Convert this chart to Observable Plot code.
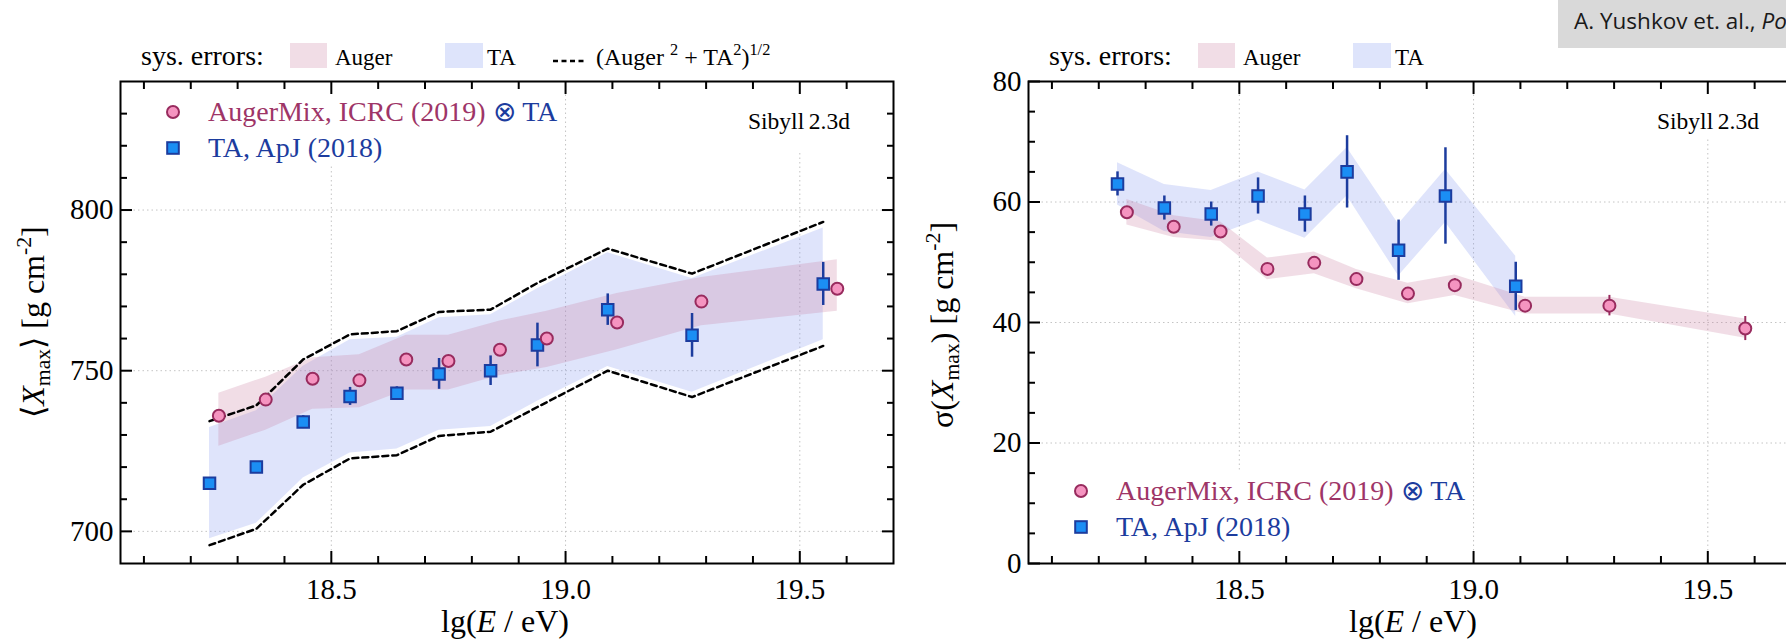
<!DOCTYPE html>
<html>
<head>
<meta charset="utf-8">
<script src="https://cdn.jsdelivr.net/npm/d3@7"></script>
<script src="https://cdn.jsdelivr.net/npm/@observablehq/plot@0.6"></script>
<style>
  html, body { margin: 0; padding: 0; background: #fff; }
  body { width: 1786px; height: 640px; overflow: hidden; position: relative;
         font-family: "Liberation Serif", "Times New Roman", serif; color: #000; }
  .panel { position: absolute; top: 0; width: 909px; height: 640px; }
  .panel > svg { position: absolute; left: 0; top: 0; overflow: visible; }
  .t { position: absolute; white-space: nowrap; line-height: 1; }
  .t sub, .t sup { font-size: 0.68em; line-height: 0; }
  .t sub { vertical-align: -0.28em; }
  .t sup { vertical-align: 0.62em; }
  .sw { position: absolute; }
  .cite { position: absolute; left: 1558px; top: 0; width: 400px; height: 48px; background: #d9d9d9;
          font-family: "Open Sans", sans-serif; font-size: 22.5px; color: #1a1a1a; }
  .cite span.txt { position: absolute; left: 16px; top: 10px; white-space: nowrap; line-height: 1; }
</style>
</head>
<body>
<div class="cite"><span class="txt">A. Yushkov et. al., <i>PoS(ICRC2019)482</i></span></div>
<script>
// ---- energy axis (shared by both panels) ----
const xDomain = [18.05, 19.7];
const xMajor = [18.5, 19.0, 19.5];
const xMinor = [18.1, 18.2, 18.3, 18.4, 18.6, 18.7, 18.8, 18.9, 19.1, 19.2, 19.3, 19.4, 19.6];

// ---- <Xmax> panel axis ----
const xmaxDomain = [690, 840];
const xmaxMajor = [700, 750, 800];
const xmaxMinor = [710, 720, 730, 740, 760, 770, 780, 790, 810, 820, 830];

// ---- sigma(Xmax) panel axis ----
const sigmaDomain = [0, 80];
const sigmaMajor = [0, 20, 40, 60, 80];
const sigmaMinor = [5, 10, 15, 25, 30, 35, 45, 50, 55, 65, 70, 75];

// ---- AugerMix, ICRC (2019) (x) TA ----
const augerE = [18.26, 18.36, 18.46, 18.56, 18.66, 18.75, 18.86, 18.96, 19.11, 19.29, 19.58];
const augerXmax = [736, 741, 747.5, 747, 753.5, 753, 756.5, 760, 765, 771.5, 775.5];
const augerXmaxSysUp = [7, 7, 6.5, 8, 7.5, 8, 9, 8.5, 9, 7.5, 9];
const augerXmaxSysDown = [9.5, 9.5, 9.5, 8.5, 9.5, 9, 8, 9, 8.5, 7.5, 7];
const augerSigma = [58.3, 55.9, 55.1, 48.9, 49.9, 47.2, 44.8, 46.2, 42.8, 42.8, 39.0];
const augerSigmaErr = [0.8, 0.8, 0.9, 0.9, 1.0, 1.0, 1.0, 1.1, 1.0, 1.7, 2.0];
const augerSigmaSys = [2.1, 1.8, 1.6, 1.8, 1.8, 1.6, 1.7, 1.7, 1.4, 1.4, 1.6];

// ---- TA, ApJ (2018) ----
const taE = [18.24, 18.34, 18.44, 18.54, 18.64, 18.73, 18.84, 18.94, 19.09, 19.27, 19.55];
const taXmax = [715, 720, 734, 742, 743, 749, 750, 758, 769, 761, 777];
const taXmaxErr = [1.5, 1.5, 2, 2.8, 2, 4.8, 4.6, 6.8, 4.9, 6.8, 6.7];
const taXmaxSys = [17.3, 17.5, 17.4, 17.6, 17.4, 17.5, 17.4, 17.5, 17.7, 17.7, 17.4];
const combinedSys = [19.3, 19.2, 19.5, 19.3, 19.3, 19.3, 19.0, 19.3, 19.0, 19.2, 19.3];
const taSigmaE = [18.24, 18.34, 18.44, 18.54, 18.64, 18.73, 18.84, 18.94, 19.09];
const taSigma = [63, 59, 58, 61, 58, 65, 52, 61, 46];
const taSigmaErr = [2, 2, 2, 3, 3, 6, 5, 8, 4];
const taSigmaSys = [3.5, 3.9, 3.9, 4, 4, 4, 4.3, 4.4, 5];

// ---- colours ----
const AUGER_FILL = "#f594c0", AUGER_DARK = "#982b5e", AUGER_TEXT = "#9e3567";
const TA_FILL = "#1b8ef4", TA_DARK = "#1c3c9e";
const AUGER_BAND = "#c8789c", TA_BAND = "#8298f0";
const AUGER_SWATCH = "#f1dde6", TA_SWATCH = "#dee4fb";

const W = 909, H = 640;
const M = {left: 120, right: 16, top: 81, bottom: 77};

function frameAxes(yMajor, yMinor) {
  const blank = () => "";
  const tick = {label: null, tickFormat: blank, stroke: "#000", strokeWidth: 2};
  return [
    Plot.frame({stroke: "#000", strokeWidth: 2}),
    Plot.axisX(xMajor, {anchor: "bottom", tickSize: 0, tickPadding: 15, tickFormat: d3.format(".1f"), label: null}),
    Plot.axisX(xMajor, {anchor: "bottom", tickSize: -12, ...tick}),
    Plot.axisX(xMinor, {anchor: "bottom", tickSize: -7, ...tick}),
    Plot.axisX(xMajor, {anchor: "top", tickSize: -12, ...tick}),
    Plot.axisX(xMinor, {anchor: "top", tickSize: -7, ...tick}),
    Plot.axisY(yMajor, {anchor: "left", tickSize: 0, tickPadding: 7, label: null}),
    Plot.axisY(yMajor, {anchor: "left", tickSize: -12, ...tick}),
    Plot.axisY(yMinor, {anchor: "left", tickSize: -7, ...tick}),
    Plot.axisY(yMajor, {anchor: "right", tickSize: -12, ...tick}),
    Plot.axisY(yMinor, {anchor: "right", tickSize: -7, ...tick})
  ];
}

function grid(yMajor) {
  const g = {stroke: "#c4c4c4", strokeOpacity: 1, strokeWidth: 1, strokeDasharray: "1.5,3"};
  return [Plot.gridX(xMajor, g), Plot.gridY(yMajor, g)];
}

// white backing boxes of the legend / model label, laid over the grid only
function addBackings(svg, rects) {
  const anchor = svg.querySelector('[aria-label="y-grid"]');
  for (const [x, y, w, h] of rects) {
    const r = document.createElementNS("http://www.w3.org/2000/svg", "rect");
    r.setAttribute("x", x); r.setAttribute("y", y);
    r.setAttribute("width", w); r.setAttribute("height", h);
    r.setAttribute("fill", "#fff");
    anchor.after(r);
  }
}

function makePlot(yDomain, yMajor, yMinor, marks) {
  return Plot.plot({
    width: W, height: H,
    marginLeft: M.left, marginRight: M.right, marginTop: M.top, marginBottom: M.bottom,
    style: {fontFamily: "'Liberation Serif', serif", fontSize: "29px", color: "#000", background: "transparent", overflow: "visible"},
    x: {domain: xDomain, label: null},
    y: {domain: yDomain, label: null},
    marks: [...grid(yMajor), ...marks, ...frameAxes(yMajor, yMinor)]
  });
}

// ---- overlay helpers (legends and axis titles) ----
function txt(parent, html, x, baseline, size, extra = "") {
  const d = document.createElement("div");
  d.className = "t";
  d.innerHTML = html;
  d.style.cssText = `left:${x}px;top:${baseline - 0.8375 * size}px;font-size:${size}px;${extra}`;
  parent.append(d);
  return d;
}
function box(parent, x, y, w, h, color) {
  const d = document.createElement("div");
  d.className = "sw";
  d.style.cssText = `left:${x}px;top:${y}px;width:${w}px;height:${h}px;background:${color};`;
  parent.append(d);
}
function marker(parent, kind, cx, cy) {
  const ns = "http://www.w3.org/2000/svg";
  const s = document.createElementNS(ns, "svg");
  s.setAttribute("width", 20); s.setAttribute("height", 20);
  s.style.cssText = `position:absolute;left:${cx - 10}px;top:${cy - 10}px;`;
  s.innerHTML = kind === "circle"
    ? `<circle cx="10" cy="10" r="6" fill="${AUGER_FILL}" stroke="${AUGER_DARK}" stroke-width="2"/>`
    : `<rect x="4.2" y="4.2" width="11.6" height="11.6" fill="${TA_FILL}" stroke="${TA_DARK}" stroke-width="2"/>`;
  parent.append(s);
}
function dashSample(parent, x1, x2, y) {
  const ns = "http://www.w3.org/2000/svg";
  const s = document.createElementNS(ns, "svg");
  s.setAttribute("width", x2 - x1); s.setAttribute("height", 6);
  s.style.cssText = `position:absolute;left:${x1}px;top:${y - 3}px;`;
  s.innerHTML = `<line x1="0" y1="3" x2="${x2 - x1}" y2="3" stroke="#000" stroke-width="2.5" stroke-dasharray="5,3.5"/>`;
  parent.append(s);
}
function yTitle(parent, html, cx, cy, size) {
  const d = document.createElement("div");
  d.className = "t";
  d.innerHTML = html;
  d.style.cssText = `left:${cx}px;top:${cy}px;font-size:${size}px;transform:translate(-50%,-50%) rotate(-90deg);`;
  parent.append(d);
}
function sysLegend(p, withCombined) {
  txt(p, "sys. errors:", 141, 65, 28);
  box(p, 290, 43, 37, 25, AUGER_SWATCH);
  txt(p, "Auger", 335, 65, 23);
  box(p, 445, 43, 38, 25, TA_SWATCH);
  txt(p, "TA", 487, 65, 23);
  if (withCombined) {
    dashSample(p, 553, 586, 61);
    txt(p, "(Auger <sup>2</sup> + TA<sup>2</sup>)<sup>1/2</sup>", 596, 65, 24);
  }
}
function dataLegend(p, y1) {
  marker(p, "circle", 173, y1);
  txt(p, `<span style="color:${AUGER_TEXT}">AugerMix, ICRC (2019)</span> <span style="color:${TA_DARK}">&#x2297; TA</span>`, 208, y1 + 9, 28);
  marker(p, "square", 173, y1 + 36);
  txt(p, `<span style="color:${TA_DARK}">TA, ApJ (2018)</span>`, 208, y1 + 45, 28);
}
function panelDiv(left) {
  const d = document.createElement("div");
  d.className = "panel";
  d.style.left = left + "px";
  document.body.append(d);
  return d;
}

// ---- left panel: mean depth of shower maximum ----
{
  const ta = taE.map((e, i) => ({e, v: taXmax[i], err: taXmaxErr[i], sys: taXmaxSys[i], comb: combinedSys[i]}));
  const auger = augerE.map((e, i) => ({e, v: augerXmax[i], up: augerXmaxSysUp[i], down: augerXmaxSysDown[i]}));
  const p = panelDiv(0);
  const svg = makePlot(xmaxDomain, xmaxMajor, xmaxMinor, [
    Plot.areaY(ta, {x: "e", y1: d => d.v - d.sys, y2: d => d.v + d.sys, fill: TA_BAND, fillOpacity: 0.26}),
    Plot.areaY(auger, {x: "e", y1: d => d.v - d.down, y2: d => d.v + d.up, fill: AUGER_BAND, fillOpacity: 0.25}),
    Plot.line(ta, {x: "e", y: d => d.v + d.comb, stroke: "#000", strokeWidth: 2.5, strokeDasharray: "6,4"}),
    Plot.line(ta, {x: "e", y: d => d.v - d.comb, stroke: "#000", strokeWidth: 2.5, strokeDasharray: "6,4"}),
    Plot.ruleX(ta, {x: "e", y1: d => d.v - d.err, y2: d => d.v + d.err, stroke: TA_DARK, strokeWidth: 2.5}),
    Plot.dot(ta, {x: "e", y: "v", symbol: "square", r: 6.5, fill: TA_FILL, stroke: TA_DARK, strokeWidth: 2}),
    Plot.dot(auger, {x: "e", y: "v", r: 6, fill: AUGER_FILL, stroke: AUGER_DARK, strokeWidth: 2})
  ]);
  addBackings(svg, [[121, 82, 440, 84], [740, 82, 115, 68]]);
  p.append(svg);
  sysLegend(p, true);
  dataLegend(p, 112);
  txt(p, "Sibyll&#x2009;2.3d", 748, 130, 23.5);
  txt(p, "lg(<i>E</i> / eV)", 441, 632, 32);
  yTitle(p, "&#x27E8;<i>X</i><sub>max</sub>&#x27E9; [g cm<sup>-2</sup>]", 33, 322, 32);
}

// ---- right panel: width of the Xmax distribution ----
{
  const ta = taSigmaE.map((e, i) => ({e, v: taSigma[i], err: taSigmaErr[i], sys: taSigmaSys[i]}));
  const auger = augerE.map((e, i) => ({e, v: augerSigma[i], err: augerSigmaErr[i], sys: augerSigmaSys[i]}));
  const p = panelDiv(908);
  const svg = makePlot(sigmaDomain, sigmaMajor, sigmaMinor, [
    Plot.areaY(ta, {x: "e", y1: d => d.v - d.sys, y2: d => d.v + d.sys, fill: TA_BAND, fillOpacity: 0.26}),
    Plot.areaY(auger, {x: "e", y1: d => d.v - d.sys, y2: d => d.v + d.sys, fill: AUGER_BAND, fillOpacity: 0.25}),
    Plot.ruleX(ta, {x: "e", y1: d => d.v - d.err, y2: d => d.v + d.err, stroke: TA_DARK, strokeWidth: 2.5}),
    Plot.dot(ta, {x: "e", y: "v", symbol: "square", r: 6.5, fill: TA_FILL, stroke: TA_DARK, strokeWidth: 2}),
    Plot.ruleX(auger, {x: "e", y1: d => d.v - d.err, y2: d => d.v + d.err, stroke: AUGER_DARK, strokeWidth: 2}),
    Plot.dot(auger, {x: "e", y: "v", r: 6, fill: AUGER_FILL, stroke: AUGER_DARK, strokeWidth: 2})
  ]);
  addBackings(svg, [[121, 470, 440, 92], [740, 82, 115, 55]]);
  p.append(svg);
  sysLegend(p, false);
  dataLegend(p, 491);
  txt(p, "Sibyll&#x2009;2.3d", 749, 130, 23.5);
  txt(p, "lg(<i>E</i> / eV)", 441, 632, 32);
  yTitle(p, "&#x03C3;(<i>X</i><sub>max</sub>) [g cm<sup>-2</sup>]", 34, 325, 32);
}
</script>
</body>
</html>
